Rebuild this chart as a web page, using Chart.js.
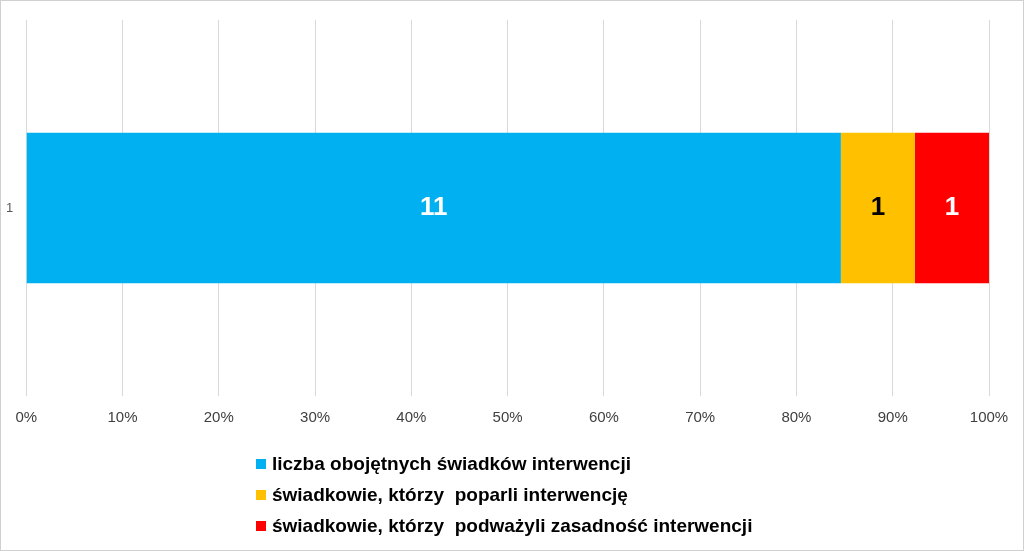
<!DOCTYPE html>
<html><head><meta charset="utf-8">
<script src="https://cdn.jsdelivr.net/npm/chart.js@4/dist/chart.umd.min.js"></script>
<style>
html,body{margin:0;padding:0;background:#fff;}
#wrap{position:relative;width:1022px;height:549px;border:1px solid #d0d0d0;font-family:"Liberation Sans",Arial,sans-serif;}
#legend{position:absolute;left:255px;top:447px;font-size:19px;font-weight:bold;color:#000;}
#legend div{height:31px;display:flex;align-items:center;white-space:pre;}
#legend span.sw{display:inline-block;width:10px;height:10px;margin-right:6px;}
</style></head><body>
<div id="wrap"><canvas id="c" width="1022" height="549"></canvas><div id="legend"></div></div>
<script>
const categories = ["1"];
const seriesNames = ["liczba obojętnych świadków interwencji","świadkowie, którzy  poparli interwencję","świadkowie, którzy  podważyli zasadność interwencji"];
const obojetni = [11];
const poparli = [1];
const podwazyli = [1];
const colors = ["#00b0f0","#ffc000","#ff0000"];
const labelColors = ["#ffffff","#000000","#ffffff"];
const raw = [obojetni, poparli, podwazyli];
const totals = categories.map((_,i)=>raw.reduce((s,a)=>s+a[i],0));
const datasets = raw.map((arr,k)=>({label:seriesNames[k],data:arr.map((v,i)=>v/totals[i]*100),raw:arr,backgroundColor:colors[k],barPercentage:0.4,categoryPercentage:1}));
const lbl={id:'lbl',afterDatasetsDraw(ch){const c=ch.ctx;c.save();c.font='bold 26px "Liberation Sans",Arial';c.textAlign='center';c.textBaseline='middle';
ch.data.datasets.forEach((d,k)=>{ch.getDatasetMeta(k).data.forEach((el,i)=>{c.fillStyle=labelColors[k];c.fillText(String(d.raw[i]),(el.x+el.base)/2,el.y);});});c.restore();}};
new Chart(document.getElementById('c'),{type:'bar',data:{labels:categories,datasets},
options:{indexAxis:'y',responsive:false,animation:false,
layout:{padding:{top:19,right:34,bottom:110,left:0}},
plugins:{legend:{display:false},tooltip:{enabled:false}},
scales:{x:{stacked:true,min:0,max:100,ticks:{stepSize:10,callback:v=>v+'%',color:'#404040',font:{size:15,family:'"Liberation Sans",Arial'},padding:13},grid:{color:'#d9d9d9',drawTicks:false},border:{display:false}},
y:{stacked:true,ticks:{color:'#595959',font:{size:13,family:'"Liberation Sans",Arial'},padding:5},grid:{display:false},border:{display:false}}}},
plugins:[lbl]});
const lg=document.getElementById('legend');
seriesNames.forEach((n,k)=>{const d=document.createElement('div');d.innerHTML='<span class="sw" style="background:'+colors[k]+'"></span>';d.appendChild(document.createTextNode(n));lg.appendChild(d);});
</script></body></html>
